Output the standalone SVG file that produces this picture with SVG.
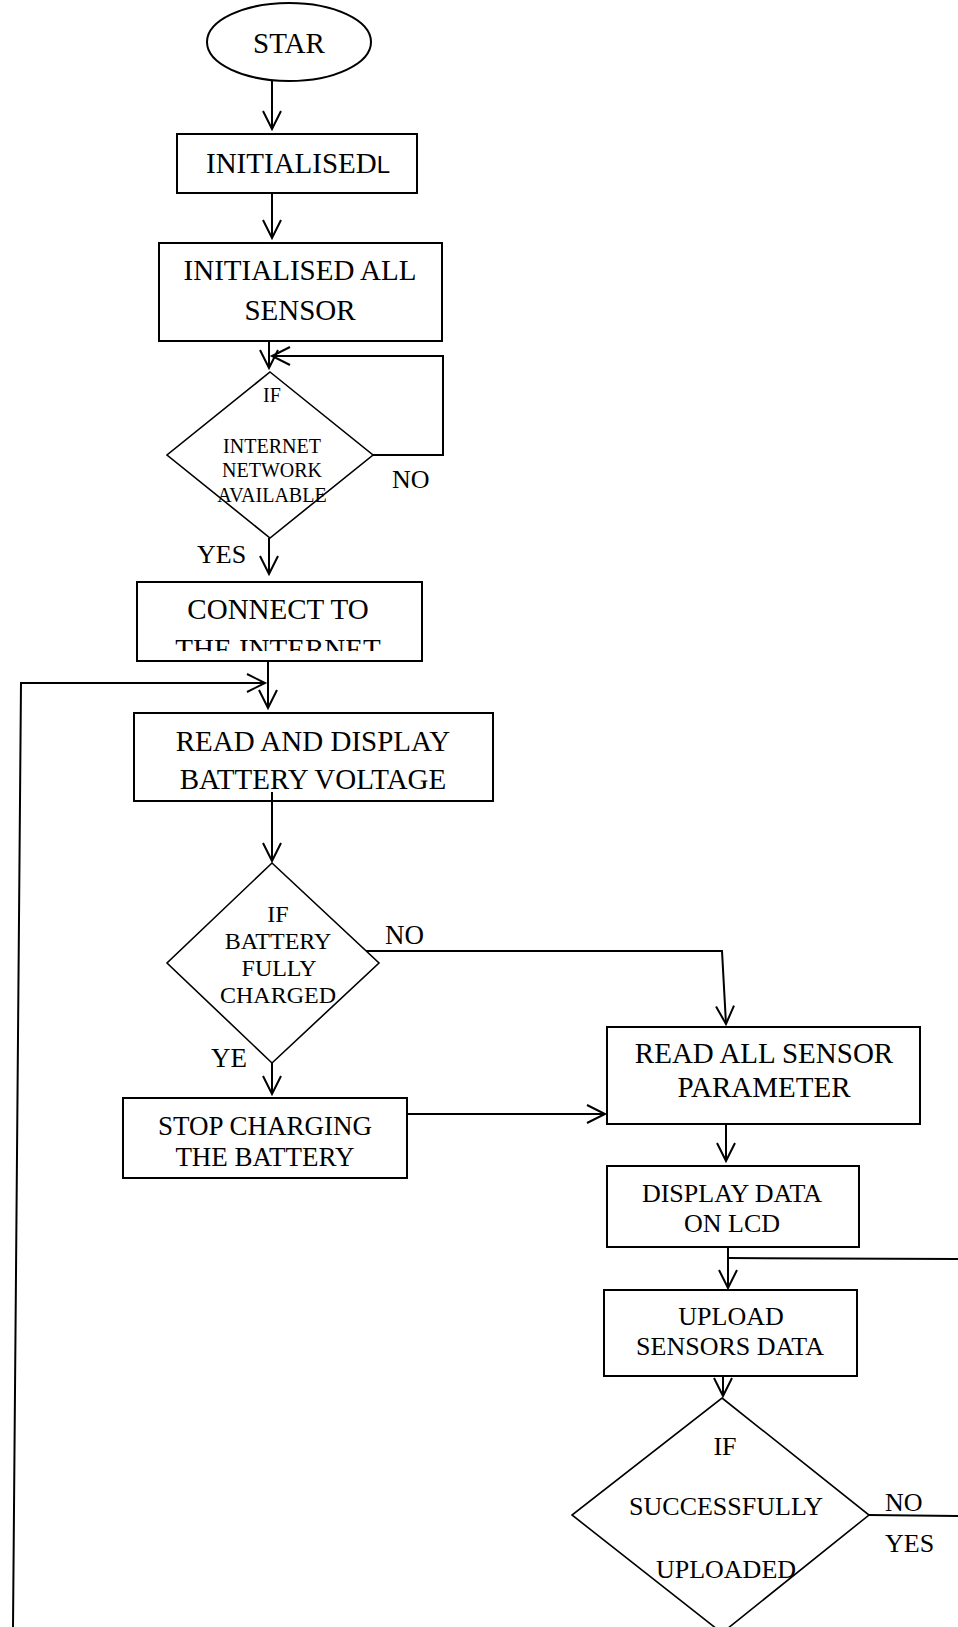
<svg xmlns="http://www.w3.org/2000/svg" width="958" height="1627" viewBox="0 0 958 1627">
<style>
.box{fill:#fff;stroke:#000;stroke-width:2}
.dia{fill:#fff;stroke:#000;stroke-width:1.6}
.ln{fill:none;stroke:#000;stroke-width:2}
.t{font-family:"Liberation Serif","Times New Roman",serif;fill:#000;text-anchor:middle}
.lb{font-family:"Liberation Serif","Times New Roman",serif;fill:#000}
</style>
<defs>
<marker id="ah" markerWidth="22" markerHeight="22" refX="19" refY="10" orient="auto" markerUnits="userSpaceOnUse">
<path d="M1,1 L19,10 L1,19" fill="none" stroke="#000" stroke-width="2"/>
</marker>
<clipPath id="c1"><rect x="137" y="582" width="285" height="69"/></clipPath>
</defs>
<rect width="958" height="1627" fill="#fff"/>
<g id="connectors">
<line class="ln" x1="272" y1="81" x2="272" y2="129" marker-end="url(#ah)"/>
<line class="ln" x1="272" y1="193" x2="272" y2="238" marker-end="url(#ah)"/>
<line class="ln" x1="269" y1="341" x2="269" y2="368" marker-end="url(#ah)"/>
<polyline class="ln" points="373,455 443,455 443,356 272,356" marker-end="url(#ah)"/>
<line class="ln" x1="269" y1="538" x2="269" y2="574" marker-end="url(#ah)"/>
<line class="ln" x1="268" y1="661" x2="268" y2="708" marker-end="url(#ah)"/>
<polyline class="ln" points="13,1627 21,683 265,683" marker-end="url(#ah)"/>
<line class="ln" x1="272" y1="792" x2="272" y2="861" marker-end="url(#ah)"/>
<polyline class="ln" points="365,951 722,951 726,1024" marker-end="url(#ah)"/>
<line class="ln" x1="272" y1="1063" x2="272" y2="1094" marker-end="url(#ah)"/>
<line class="ln" x1="407" y1="1114" x2="605" y2="1114" marker-end="url(#ah)"/>
<line class="ln" x1="726" y1="1124" x2="726" y2="1161" marker-end="url(#ah)"/>
<line class="ln" x1="728" y1="1247" x2="728" y2="1288" marker-end="url(#ah)"/>
<line class="ln" x1="729" y1="1258" x2="958" y2="1259"/>
<line class="ln" x1="723" y1="1376" x2="723" y2="1396" marker-end="url(#ah)"/>
<line class="ln" x1="869" y1="1515" x2="958" y2="1516"/>
</g>
<g id="start">
<ellipse class="box" cx="289" cy="42" rx="82" ry="39"/>
<text class="t" x="289" y="53" font-size="29">STAR</text>
</g>
<g id="init">
<rect class="box" x="177" y="134" width="240" height="59"/>
<text class="lb" x="206" y="173" font-size="29">INITIALISED<tspan font-family="'Liberation Sans',Arial,sans-serif" font-size="24">L</tspan></text>
</g>
<g id="init-sensors">
<rect class="box" x="159" y="243" width="283" height="98"/>
<text class="t" x="300" y="280" font-size="29">INITIALISED ALL</text>
<text class="t" x="300" y="320" font-size="29">SENSOR</text>
</g>
<g id="internet-check">
<polygon class="dia" points="270,372 373,455 270,538 167,455"/>
<text class="t" x="272" y="402" font-size="20">IF</text>
<text class="t" x="272" y="453" font-size="20">INTERNET</text>
<text class="t" x="272" y="477" font-size="20">NETWORK</text>
<text class="t" x="272" y="502" font-size="20">AVAILABLE</text>
<text class="lb" x="392" y="488" font-size="26">NO</text>
<text class="lb" x="197" y="563" font-size="26">YES</text>
</g>
<g id="connect">
<rect class="box" x="137" y="582" width="285" height="79"/>
<g clip-path="url(#c1)">
<text class="t" x="278" y="619" font-size="29">CONNECT TO</text>
<text class="t" x="278" y="659" font-size="29">THE INTERNET</text>
</g>
</g>
<g id="read-battery">
<rect class="box" x="134" y="713" width="359" height="88"/>
<text class="t" x="313" y="751" font-size="29">READ AND DISPLAY</text>
<text class="t" x="313" y="789" font-size="29">BATTERY VOLTAGE</text>
<line class="ln" x1="272" y1="792" x2="272" y2="801"/>
</g>
<g id="battery-check">
<polygon class="dia" points="272,863 379,963 272,1063 167,963"/>
<text class="t" x="278" y="922" font-size="24">IF</text>
<text class="t" x="278" y="949" font-size="24">BATTERY</text>
<text class="t" x="279" y="976" font-size="24">FULLY</text>
<text class="t" x="278" y="1003" font-size="24">CHARGED</text>
<text class="lb" x="385" y="944" font-size="27">NO</text>
<text class="lb" x="211" y="1067" font-size="27">YE</text>
</g>
<g id="stop-charging">
<rect class="box" x="123" y="1098" width="284" height="80"/>
<text class="t" x="265" y="1135" font-size="27">STOP CHARGING</text>
<text class="t" x="265" y="1166" font-size="27">THE BATTERY</text>
</g>
<g id="read-sensors">
<rect class="box" x="607" y="1027" width="313" height="97"/>
<text class="t" x="764" y="1063" font-size="29">READ ALL SENSOR</text>
<text class="t" x="764" y="1097" font-size="29">PARAMETER</text>
</g>
<g id="display-lcd">
<rect class="box" x="607" y="1166" width="252" height="81"/>
<text class="t" x="732" y="1202" font-size="26">DISPLAY DATA</text>
<text class="t" x="732" y="1232" font-size="26">ON LCD</text>
</g>
<g id="upload">
<rect class="box" x="604" y="1290" width="253" height="86"/>
<text class="t" x="731" y="1325" font-size="26">UPLOAD</text>
<text class="t" x="730" y="1355" font-size="26">SENSORS DATA</text>
</g>
<g id="upload-check">
<polygon class="dia" points="722,1398 869,1515 722,1633 572,1515"/>
<text class="t" x="725" y="1455" font-size="26">IF</text>
<text class="t" x="726" y="1515" font-size="26">SUCCESSFULLY</text>
<text class="t" x="726" y="1578" font-size="26">UPLOADED</text>
<text class="lb" x="885" y="1511" font-size="26">NO</text>
<text class="lb" x="885" y="1552" font-size="26">YES</text>
</g>
</svg>
